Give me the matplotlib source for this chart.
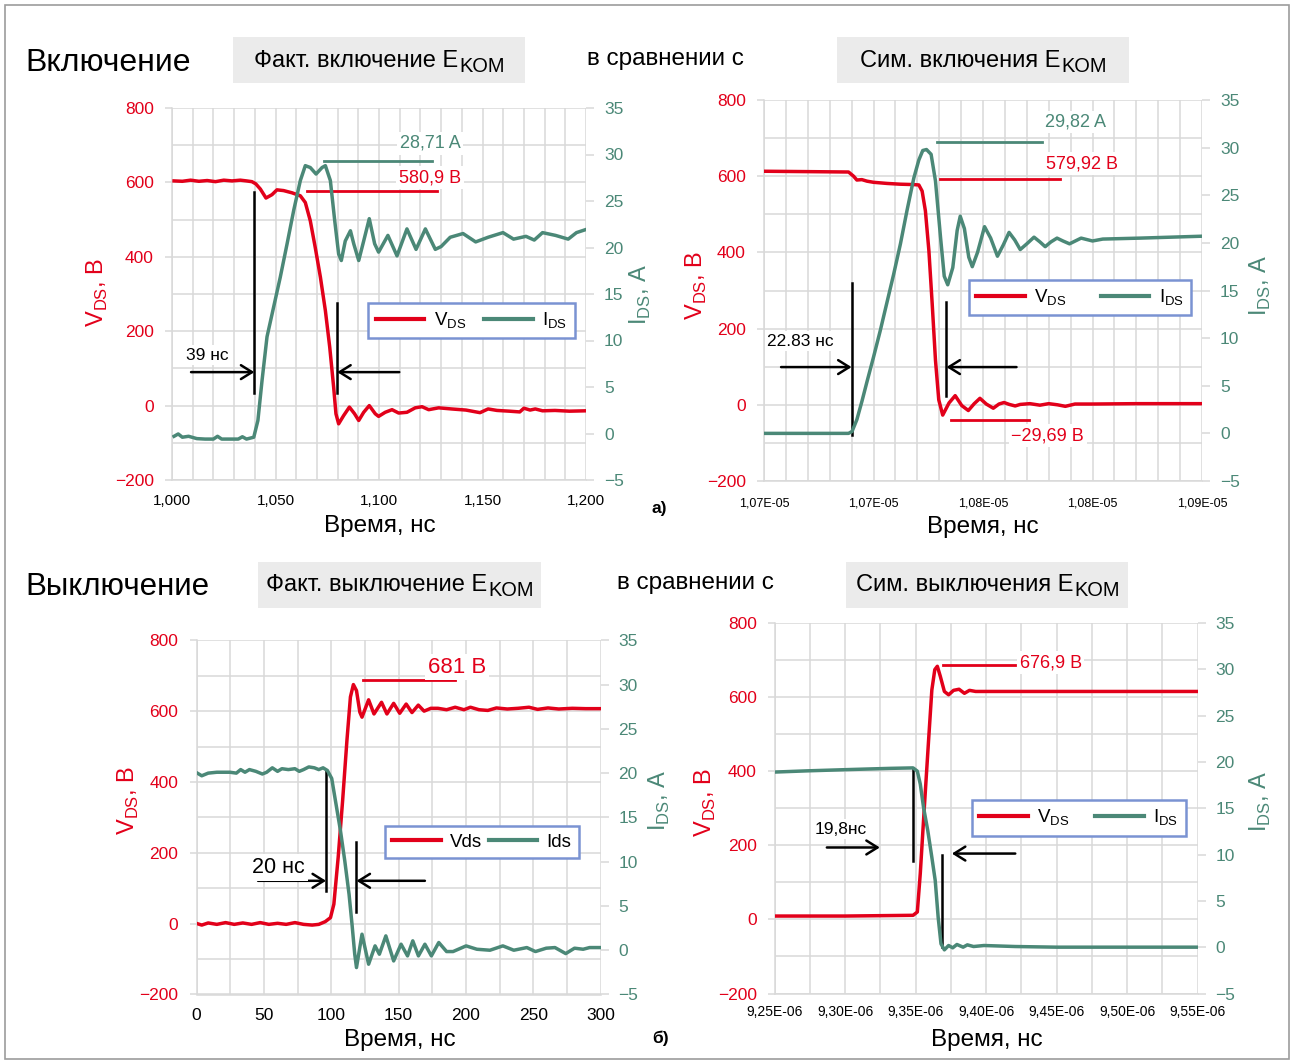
import matplotlib
matplotlib.use("Agg")
import matplotlib.pyplot as plt
import numpy as np
from matplotlib.lines import Line2D
from matplotlib.patches import Rectangle

# ---------------------------------------------------------------------------
# Data
# ---------------------------------------------------------------------------
# a) turn-on, measured: time in ns
t1_v = [1001, 1005, 1009, 1013, 1017, 1021, 1025, 1029, 1033, 1036, 1038.6, 1040.5,
        1042.7, 1045.4, 1048.3, 1050.7, 1053.9, 1058, 1062, 1064.4, 1066.8, 1069.2,
        1071.7, 1074.1, 1076.2, 1078.1, 1079.2, 1080.5, 1082.9, 1085.7, 1088.2, 1090.2,
        1092.6, 1095.3, 1098.2, 1099.8, 1103, 1106.3, 1109.5, 1113.5, 1117.5, 1120.8,
        1124, 1128.8, 1135, 1142, 1148.8, 1152.7, 1157, 1163, 1168, 1170, 1173, 1175.5,
        1179, 1185, 1192, 1200]
v1 = [604, 603, 606, 603, 605, 602, 606, 604, 606, 604, 602, 596,
      582, 558, 567, 580, 578, 572, 564, 546, 497, 425,
      345, 255, 157, 49, -22, -49, -27, -4, -22, -40,
      -18, 0, -22, -29, -18, -11, -20, -18, -6, -3,
      -11, -6, -9, -12, -19, -9, -13, -15, -17, -7, -12, -9,
      -14, -13, -15, -14]
t1_i = [1001, 1003, 1005, 1008, 1012, 1016, 1020, 1022, 1024, 1028, 1032, 1034, 1036,
        1039.5, 1041.5, 1043.5, 1045.9, 1049.1, 1052.3, 1055.6, 1058.8, 1062, 1064.4,
        1066.8, 1069.6, 1072.5, 1074.1, 1076.5, 1078.6, 1080.5, 1081.8, 1083.7, 1086.2,
        1087.8, 1090.2, 1092.6, 1095.3, 1097.9, 1099.8, 1104.3, 1108.7, 1113.5, 1117.9,
        1122.4, 1127.2, 1130, 1134.4, 1140.6, 1146.7, 1152.7, 1159.9, 1165, 1171, 1175,
        1179, 1185.3, 1191.4, 1195.4, 1199.5]
i1 = [-0.3, -0.05, -0.4, -0.3, -0.55, -0.6, -0.6, -0.3, -0.6, -0.6, -0.6, -0.35, -0.6,
      -0.4, 1.4, 5.7, 10.4, 13.6, 16.8, 20.4, 24.0, 27.2, 28.8,
      28.6, 27.9, 28.6, 28.8, 27.2, 22.9, 19.3, 18.6, 20.7, 21.8,
      20.4, 18.6, 20.7, 23.1, 20.4, 19.5, 21.3, 19.1, 22.0, 19.8,
      22.0, 19.8, 20.1, 21.1, 21.5, 20.6, 21.1, 21.6, 20.9, 21.2, 20.8,
      21.6, 21.3, 20.9, 21.6, 21.9]

# a) turn-on, simulated: ns after 1.070E-05 s
t2_v = [0, 20, 38.6, 40.9, 42.4, 44.7, 47, 50, 56.2, 62.3, 68.4, 70.7, 72.2, 73.7,
        75.3, 76.8, 78.3, 79.8, 81.6, 84.5, 87.3, 90.3, 93.3, 96, 98.6, 101.5, 104.7,
        107.3, 109.6, 112, 114.7, 117, 121.4, 126, 130, 134, 137.6, 142, 150, 170, 200]
v2 = [613, 612, 611, 600, 590, 591, 587, 584, 581, 579, 578, 577, 561, 509,
      404, 265, 117, 13, -27, 5, 24, -2, -15, 3, 17, 2, -9,
      2, 6, 1, -3, 1, 3, -1, 3, 0, -4, 2, 2, 3, 3]
t2_i = [0, 20, 38.6, 40.2, 42.4, 44.7, 47, 50, 53.1, 56.2, 59.2, 62.3, 65.3, 68.4,
        70.7, 72.5, 74.2, 76.3, 78.3, 80.6, 82.3, 83.9, 86.2, 88.2, 89.6, 91.5, 93.5,
        95.1, 97.5, 100.7, 103.5, 106.6, 109.3, 111.9, 114.5, 117, 120, 123.3, 126,
        128.4, 131, 133.8, 136.5, 139.5, 144.8, 150, 154.7, 171.8, 200]
i2 = [0, 0, 0, 0.2, 1.44, 3.35, 5.4, 8.0, 10.8, 13.8, 16.7, 19.9, 23.4, 26.8,
      28.7, 29.7, 29.8, 29.3, 26.5, 20.6, 16.5, 15.6, 17.4, 21.3, 22.8, 21.5, 18.5,
      17.5, 19.0, 21.7, 20.5, 18.6, 19.8, 21.1, 20.3, 19.3, 19.9, 20.6, 20.1,
      19.6, 20.1, 20.5, 20.2, 19.9, 20.5, 20.2, 20.4, 20.5, 20.7]

# б) turn-off, measured: time in ns
t3_v = [0.6, 3.9, 8.7, 15.1, 21.6, 28, 34.4, 40.9, 47.3, 53.7, 60.2, 66.6, 73.1, 79.5,
        85.9, 90.8, 95.6, 99.5, 102, 105.2, 108.5, 111.7, 114.3, 116.5, 118.8, 121.3,
        122.9, 127.8, 131.8, 137.4, 141.4, 146.4, 150.9, 155.7, 160, 164.7, 169, 174,
        179.3, 185.7, 192.1, 198.6, 203.4, 209.8, 216.3, 222.7, 230.8, 238.8, 246.9,
        253.3, 261, 269, 279, 289, 300]
v3 = [0, -4, 2, -2, 3, -2, 2, -2, 3, -2, 1, -2, 3, -2,
      -4, -2, 5.7, 17, 55, 187, 347, 517, 640, 675, 658, 597,
      583, 632, 592, 625, 592, 622, 594, 620, 596, 617, 600, 608,
      608, 604, 611, 604, 611, 604, 602, 609, 606, 608, 611,
      605, 609, 606, 608, 607, 607]
t3_i = [0.6, 3.9, 8.7, 15.1, 24.8, 29.6, 32.8, 36, 39.3, 44.1, 48.9, 52.1, 56.3, 60.2,
        63.4, 68.2, 73.1, 76.3, 79.5, 83.4, 87.5, 90.8, 94, 97.2, 100.4, 103.6, 106.9,
        110.1, 113.3, 115.5, 117.5, 118.8, 122.9, 127.8, 132.6, 135.8, 140.6, 146.4,
        151.9, 156.7, 160.6, 164.8, 169.6, 174.4, 179.9, 185.7, 190.5, 200.2, 208.2,
        217.9, 227.5, 235.6, 245.3, 251.7, 259.7, 266.2, 274.2, 280.7, 287.1, 291.9, 300]
i3 = [20.0, 19.7, 20.0, 20.1, 20.1, 20.0, 20.4, 20.1, 20.4, 20.2, 19.9, 20.1, 20.6, 20.2,
      20.5, 20.4, 20.5, 20.2, 20.4, 20.7, 20.6, 20.4, 20.6, 20.3, 19.4, 16.5, 13.5,
      10.1, 6.3, 2.9, -0.45, -1.96, 1.81, -1.58, 0.49, -0.45, 1.62, -1.21,
      0.68, -0.64, 1.06, -0.64, 0.68, -0.64, 0.87, -0.15, -0.15, 0.49, 0.11,
      0.0, 0.49, 0.0, 0.3, -0.15, 0.23, 0.3, -0.38, 0.23, 0.11, 0.3, 0.3]

# б) turn-off, simulated: ns after 9.25E-06 s
t4_v = [0, 50, 98.2, 101.2, 103.3, 106.2, 109.2, 111.5, 113.6, 115.4, 117.5, 120.4,
        123.4, 126.9, 130.8, 134.6, 138.2, 142.6, 200, 300]
v4 = [9, 9, 11, 20, 124, 304, 484, 619, 674, 683, 656, 615,
      606, 618, 621, 610, 618, 615, 615, 615]
t4_i = [0, 22.8, 52.4, 82, 98.2, 101.2, 103.3, 105.6, 108.6, 111.5, 113.9, 116, 118,
        120.4, 123.4, 126.3, 129.3, 133.7, 136.7, 141.1, 148.5, 170.7, 200.3, 300]
i4 = [18.9, 19.03, 19.17, 19.3, 19.35, 19.0, 17.6, 15.1, 12.6, 9.7, 7.2, 3.2, 0.36,
      -0.29, 0.18, -0.07, 0.29, 0.0, 0.25, 0.07, 0.18, 0.07, 0.0, 0.0]

# axis ticks / labels
V_TICKS = [-200, 0, 200, 400, 600, 800]
I_TICKS = [-5, 0, 5, 10, 15, 20, 25, 30, 35]
x1_ticks = [1000, 1050, 1100, 1150, 1200]
x1_labels = ["1,000", "1,050", "1,100", "1,150", "1,200"]
x2_ticks = [0, 50, 100, 150, 200]
x2_labels = ["1,07E-05", "1,07E-05", "1,08E-05", "1,08E-05", "1,09E-05"]
x3_ticks = [0, 50, 100, 150, 200, 250, 300]
x3_labels = ["0", "50", "100", "150", "200", "250", "300"]
x4_ticks = [0, 50, 100, 150, 200, 250, 300]
x4_labels = ["9,25E-06", "9,30E-06", "9,35E-06", "9,40E-06", "9,45E-06",
             "9,50E-06", "9,55E-06"]

# ---------------------------------------------------------------------------
# Style
# ---------------------------------------------------------------------------
RED = "#E2001A"
TEAL = "#4B8877"
GRID = "#D9D9D9"
BOX_GRAY = "#EBEBEB"
LEG_EDGE = "#7A93D2"

plt.rcParams["font.family"] = ["Liberation Sans", "DejaVu Sans"]

W, H = 1294, 1064
fig = plt.figure(figsize=(W / 100, H / 100), dpi=100)
renderer = fig.canvas.get_renderer()


def fx(x):
    return x / W


def fy(y):
    return 1 - y / H


def add_panel(box, xlim, major, labels, minor_step, xsize, xpad):
    x0, y0, x1, y1 = box
    ax = fig.add_axes([fx(x0), fy(y1), (x1 - x0) / W, (y1 - y0) / H])
    ax.set_xlim(*xlim)
    ax.set_ylim(-200, 800)
    ax.set_xticks(major)
    ax.set_xticklabels(labels, fontsize=xsize)
    ax.set_xticks(np.arange(xlim[0], xlim[1] + 0.1, minor_step), minor=True)
    ax.set_yticks(V_TICKS)
    ax.set_yticks(np.arange(-200, 801, 100), minor=True)
    ax.grid(True, which="both", color=GRID, lw=1.1)
    ax.set_axisbelow(True)
    for side in ("top", "right"):
        ax.spines[side].set_visible(False)
    for side in ("left", "bottom"):
        ax.spines[side].set_color(GRID)
        ax.spines[side].set_linewidth(1.1)
    ax.tick_params(axis="y", which="major", length=5, width=1.1, color=GRID,
                   labelcolor=RED, labelsize=12.5, pad=8)
    ax.tick_params(axis="y", which="minor", length=0)
    ax.tick_params(axis="x", which="both", length=0, pad=xpad)

    ax2 = ax.twinx()
    ax2.set_ylim(-5, 35)
    ax2.set_yticks(I_TICKS)
    for s in ax2.spines.values():
        s.set_visible(False)
    ax2.tick_params(axis="y", length=6, width=1.1, color=GRID,
                    labelcolor=TEAL, labelsize=12.5, pad=7)
    return ax, ax2


def note(ax, x, y, s, color, fs, ha="center"):
    ax.text(x, y, s, color=color, fontsize=fs, ha=ha, va="center", zorder=5,
            bbox=dict(facecolor="white", edgecolor="none", pad=2))


def marker_line(ax, x, y0, y1):
    ax.plot([x, x], [y0, y1], color="black", lw=1.8, zorder=4)


def arrow(ax, x_from, x_to, y):
    ax.annotate("", xy=(x_to, y), xytext=(x_from, y), zorder=4,
                arrowprops=dict(arrowstyle="->,head_length=0.4,head_width=0.25",
                                mutation_scale=20, color="black", lw=1.8,
                                shrinkA=0, shrinkB=0))


def legend(ax2, box, labels):
    x0, y0, x1, y1 = box
    handles = [Line2D([], [], color=RED, lw=3), Line2D([], [], color=TEAL, lw=3)]
    leg = ax2.legend(handles, labels, ncol=2, loc="center", mode="expand",
                     bbox_to_anchor=(fx(x0), fy(y1), (x1 - x0) / W, (y1 - y0) / H),
                     bbox_transform=fig.transFigure, fontsize=13.5, frameon=True,
                     fancybox=False, edgecolor=LEG_EDGE, framealpha=1,
                     handlelength=2.6, handletextpad=0.5, borderpad=0.4,
                     borderaxespad=0, columnspacing=1.0)
    leg.get_frame().set_linewidth(1.8)


def axis_labels(vpos, ipos, xpos):
    fig.text(fx(vpos[0]), fy(vpos[1]), r"V$_\mathregular{DS}$, В", color=RED,
             fontsize=17, rotation=90, ha="center", va="center")
    fig.text(fx(ipos[0]), fy(ipos[1]), r"I$_\mathregular{DS}$, А", color=TEAL,
             fontsize=17, rotation=90, ha="center", va="center")
    fig.text(fx(xpos[0]), fy(xpos[1]), "Время, нс", fontsize=17.5,
             ha="center", va="center")


def heading(box, baseline, main, sub, fs=17):
    # gray box with centred "main E" + lowered "KOM"
    x0, y0, x1, y1 = box
    fig.add_artist(Rectangle((fx(x0), fy(y1)), (x1 - x0) / W, (y1 - y0) / H,
                             transform=fig.transFigure, facecolor=BOX_GRAY,
                             edgecolor="none", zorder=0))
    t_main = fig.text(0, fy(baseline), main, fontsize=fs, va="baseline")
    t_sub = fig.text(0, fy(baseline + 5), sub, fontsize=fs * 0.85, va="baseline")
    w_main = t_main.get_window_extent(renderer).width
    w_sub = t_sub.get_window_extent(renderer).width
    left = (x0 + x1) / 2 - (w_main + w_sub) / 2
    t_main.set_x(fx(left))
    t_sub.set_x(fx(left + w_main + 1))


LW = 2.5

# ---------------------------------------------------------------------------
# a) measured turn-on
# ---------------------------------------------------------------------------
ax, ax2 = add_panel((172, 108, 586, 480), (1000, 1200), x1_ticks, x1_labels, 10, 11, 10)
ax.plot(t1_v, v1, color=RED, lw=LW, solid_joinstyle="round", zorder=3)
ax2.plot(t1_i, i1, color=TEAL, lw=LW, solid_joinstyle="round", zorder=3)
ax2.plot([1073.6, 1125.4], [29.3, 29.3], color=TEAL, lw=2)
note(ax2, 1124.8, 31.2, "28,71 A", TEAL, 13)
ax.plot([1065.2, 1128], [577, 577], color=RED, lw=2, zorder=4)
note(ax, 1124.6, 613, "580,9 В", RED, 13)
marker_line(ax, 1039.8, 33, 575)
marker_line(ax, 1079.8, 33, 276)
arrow(ax, 1009.2, 1039.8, 90)
arrow(ax, 1109.8, 1079.8, 90)
note(ax, 1007, 136, "39 нс", "black", 12.5, ha="left")
legend(ax2, (368, 301, 575, 340), [r"V$_\mathregular{DS}$", r"I$_\mathregular{DS}$"])
axis_labels((97, 292), (640, 294), (380, 526))

# ---------------------------------------------------------------------------
# a) simulated turn-on
# ---------------------------------------------------------------------------
ax, ax2 = add_panel((764, 100, 1202, 481), (0, 200), x2_ticks, x2_labels, 10, 9, 12)
ax.plot(t2_v, v2, color=RED, lw=LW, solid_joinstyle="round", zorder=3)
ax2.plot(t2_i, i2, color=TEAL, lw=LW, solid_joinstyle="round", zorder=3)
ax2.plot([79.2, 127.1], [30.6, 30.6], color=TEAL, lw=2)
note(ax2, 142.4, 32.7, "29,82 A", TEAL, 13)
ax.plot([80.5, 135.1], [592, 592], color=RED, lw=2, zorder=4)
note(ax, 145.3, 633, "579,92 В", RED, 13)
ax.plot([85.3, 120.8], [-40.5, -40.5], color=RED, lw=2, zorder=4)
note(ax, 129.5, -81, "−29,69 В", RED, 13)
marker_line(ax, 40, -78.5, 320)
marker_line(ax, 83.3, 22.6, 271)
arrow(ax, 7.8, 40, 99)
arrow(ax, 115.3, 83.3, 99)
note(ax, 1.5, 167, "22.83 нс", "black", 12.5, ha="left")
legend(ax2, (968.6, 278, 1191.3, 317.5), [r"V$_\mathregular{DS}$", r"I$_\mathregular{DS}$"])
axis_labels((696, 285), (1260, 285), (983, 527))

# ---------------------------------------------------------------------------
# б) measured turn-off
# ---------------------------------------------------------------------------
ax, ax2 = add_panel((196.5, 640.3, 600.5, 994.5), (0, 300), x3_ticks, x3_labels, 25, 12.5, 10)
ax.plot(t3_v, v3, color=RED, lw=LW, solid_joinstyle="round", zorder=3)
ax2.plot(t3_i, i3, color=TEAL, lw=LW, solid_joinstyle="round", zorder=3)
ax.plot([123.6, 192.1], [687, 687], color=RED, lw=2, zorder=4)
note(ax, 193.4, 724, "681 В", RED, 16)
marker_line(ax, 96.2, 92.5, 432)
marker_line(ax, 118.8, 34, 231)
arrow(ax, 45.7, 96.2, 121)
arrow(ax, 169.6, 118.8, 121)
note(ax, 41.5, 158, "20 нс", "black", 15.5, ha="left")
legend(ax2, (384.6, 823.4, 579, 861), ["Vds", "Ids"])
axis_labels((128, 800), (659, 800), (400, 1040))

# ---------------------------------------------------------------------------
# б) simulated turn-off
# ---------------------------------------------------------------------------
ax, ax2 = add_panel((774.7, 622.9, 1197.5, 993.5), (0, 300), x4_ticks, x4_labels, 25, 10, 8)
ax.plot(t4_v, v4, color=RED, lw=LW, solid_joinstyle="round", zorder=3)
ax2.plot(t4_i, i4, color=TEAL, lw=LW, solid_joinstyle="round", zorder=3)
ax.plot([119.5, 170.7], [687, 687], color=RED, lw=2, zorder=4)
note(ax, 173.7, 693, "676,9 В", RED, 13, ha="left")
marker_line(ax, 98.2, 157.8, 407.6)
marker_line(ax, 118.9, -75, 173)
arrow(ax, 37, 74.6, 194)
arrow(ax, 170.7, 125.7, 177.6)
note(ax, 28.1, 243.5, "19,8нс", "black", 12.5, ha="left")
legend(ax2, (971.5, 799, 1185.5, 836.8), [r"V$_\mathregular{DS}$", r"I$_\mathregular{DS}$"])
axis_labels((705.5, 802), (1260, 801), (987, 1040))

# ---------------------------------------------------------------------------
# Headings
# ---------------------------------------------------------------------------
heading((233, 37, 525, 83), 67, "Факт. включение E", "KOM")
heading((837, 37, 1129, 83), 67, "Сим. включения E", "KOM")
heading((258, 562, 541, 608), 591, "Факт. выключение E", "KOM")
heading((846, 562, 1128, 608), 591, "Сим. выключения E", "KOM")

fig.text(fx(25), fy(71), "Включение", fontsize=23, va="baseline")
fig.text(fx(25), fy(595), "Выключение", fontsize=22.5, va="baseline")
fig.text(fx(665), fy(65), "в сравнении с", fontsize=17.5, ha="center", va="baseline")
fig.text(fx(695), fy(589), "в сравнении с", fontsize=17.5, ha="center", va="baseline")
fig.text(fx(652), fy(508), "а)", fontsize=12.5, fontweight="bold", va="center")
fig.text(fx(652), fy(1038), "б)", fontsize=12.5, fontweight="bold", va="center")

fig.add_artist(Rectangle((fx(5), fy(1059)), 1284 / W, 1054 / H, transform=fig.transFigure,
                         fill=False, edgecolor="#9C9C9C", lw=1.2))

fig.savefig("out.png", dpi=100)
